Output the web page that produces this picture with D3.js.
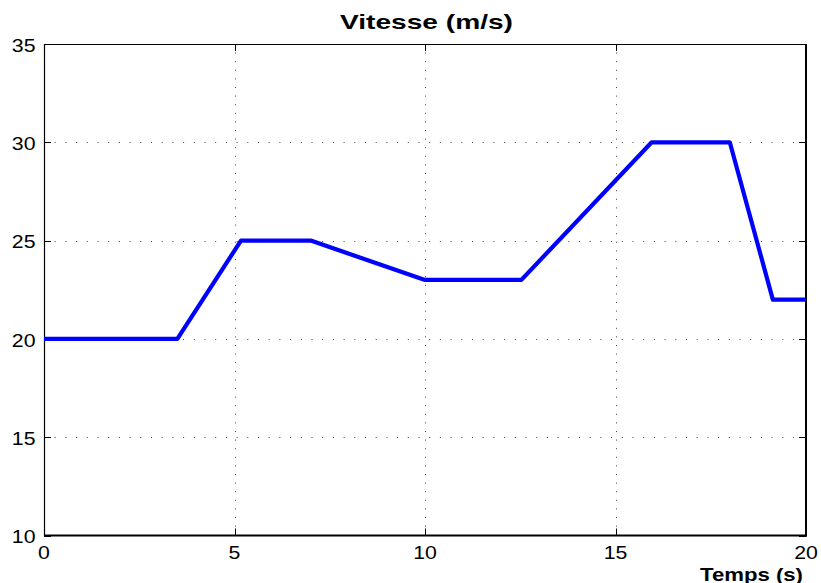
<!DOCTYPE html>
<html>
<head>
<meta charset="utf-8">
<script src="https://cdn.jsdelivr.net/npm/d3@7/dist/d3.min.js"></script>
<style>
  html, body { margin: 0; padding: 0; background: #fff; }
  svg { display: block; font-family: "Liberation Sans", Arial, Helvetica, sans-serif; }
</style>
</head>
<body>
<svg id="chart" width="821" height="583"></svg>
<script>
// Speed profile: time (s) and speed (m/s) breakpoints
const times  = [0, 3.5, 5.17, 7, 10, 12.53, 15.95, 18, 19.13, 20];
const speeds = [20, 20, 25, 25, 23, 23, 30, 30, 22, 22];
const xTicks = [0, 5, 10, 15, 20];
const yTicks = [10, 15, 20, 25, 30, 35];
const titleText = "Vitesse (m/s)";
const xLabelText = "Temps (s)";

const svg = d3.select("#chart");
const plotLeft = 44, plotRight = 806, plotTop = 44, plotBottom = 535.5;

const x = d3.scaleLinear().domain([0, 20]).range([plotLeft, plotRight]);
const y = d3.scaleLinear().domain([10, 35]).range([plotBottom, plotTop]);

// dotted grid
const grid = svg.append("g").attr("stroke", "#444").attr("stroke-width", 1);
grid.selectAll(".gx").data(xTicks.slice(1, -1)).join("line")
  .attr("x1", d => Math.round(x(d)) + 0.5).attr("x2", d => Math.round(x(d)) + 0.5)
  .attr("y1", plotTop).attr("y2", plotBottom)
  .attr("stroke-dasharray", "1,7.6");
grid.selectAll(".gy").data(yTicks.slice(1, -1)).join("line")
  .attr("y1", d => Math.round(y(d)) + 0.5).attr("y2", d => Math.round(y(d)) + 0.5)
  .attr("x1", plotLeft).attr("x2", plotRight)
  .attr("stroke-dasharray", "1,9.7");

// inward ticks on all four sides
const tl = 7;
const axes = svg.append("g").attr("stroke", "#000").attr("stroke-width", 1);
xTicks.forEach(d => {
  const px = Math.round(x(d)) + 0.5;
  axes.append("line").attr("x1", px).attr("x2", px).attr("y1", plotBottom).attr("y2", plotBottom - tl);
  axes.append("line").attr("x1", px).attr("x2", px).attr("y1", plotTop).attr("y2", plotTop + tl);
});
yTicks.forEach(d => {
  const py = Math.round(y(d)) + 0.5;
  axes.append("line").attr("y1", py).attr("y2", py).attr("x1", plotLeft).attr("x2", plotLeft + tl);
  axes.append("line").attr("y1", py).attr("y2", py).attr("x1", plotRight).attr("x2", plotRight - tl);
});

// frame: thin top/left, heavier bottom/right
const frame = svg.append("g").attr("stroke", "#000");
frame.append("line").attr("x1", plotLeft).attr("x2", plotRight).attr("y1", plotTop + 0.5).attr("y2", plotTop + 0.5).attr("stroke-width", 1.2);
frame.append("line").attr("x1", plotLeft + 0.5).attr("x2", plotLeft + 0.5).attr("y1", plotTop).attr("y2", plotBottom).attr("stroke-width", 1.2);
frame.append("line").attr("x1", plotLeft).attr("x2", plotRight + 1).attr("y1", plotBottom).attr("y2", plotBottom).attr("stroke-width", 2);
frame.append("line").attr("x1", plotRight).attr("x2", plotRight).attr("y1", plotTop).attr("y2", plotBottom + 1).attr("stroke-width", 2);

// speed curve
const pts = times.map((t, i) => [t, speeds[i]]);
svg.append("path")
  .datum(pts)
  .attr("fill", "none")
  .attr("stroke", "#0000ff")
  .attr("stroke-width", 4.2)
  .attr("stroke-linejoin", "round")
  .attr("d", d3.line().x(d => x(d[0])).y(d => y(d[1])));

// tick labels (slightly wide lettering)
const sx = 1.15;
svg.append("g").selectAll("text").data(xTicks).join("text")
  .attr("transform", d => `translate(${x(d)},559.3) scale(${sx},1)`)
  .attr("text-anchor", "middle")
  .attr("font-size", 18.5)
  .text(d => d);
svg.append("g").selectAll("text").data(yTicks).join("text")
  .attr("transform", d => `translate(35.5,${y(d) + 7.7}) scale(${sx},1)`)
  .attr("text-anchor", "end")
  .attr("font-size", 18.5)
  .text(d => d);

// title and axis label
svg.append("text")
  .attr("x", 340).attr("y", 29.3)
  .attr("font-size", 21).attr("font-weight", "bold")
  .attr("textLength", 173).attr("lengthAdjust", "spacingAndGlyphs")
  .text(titleText);
svg.append("text")
  .attr("x", 700).attr("y", 580.5)
  .attr("font-size", 19).attr("font-weight", "bold")
  .attr("textLength", 103).attr("lengthAdjust", "spacingAndGlyphs")
  .text(xLabelText);
</script>
</body>
</html>
